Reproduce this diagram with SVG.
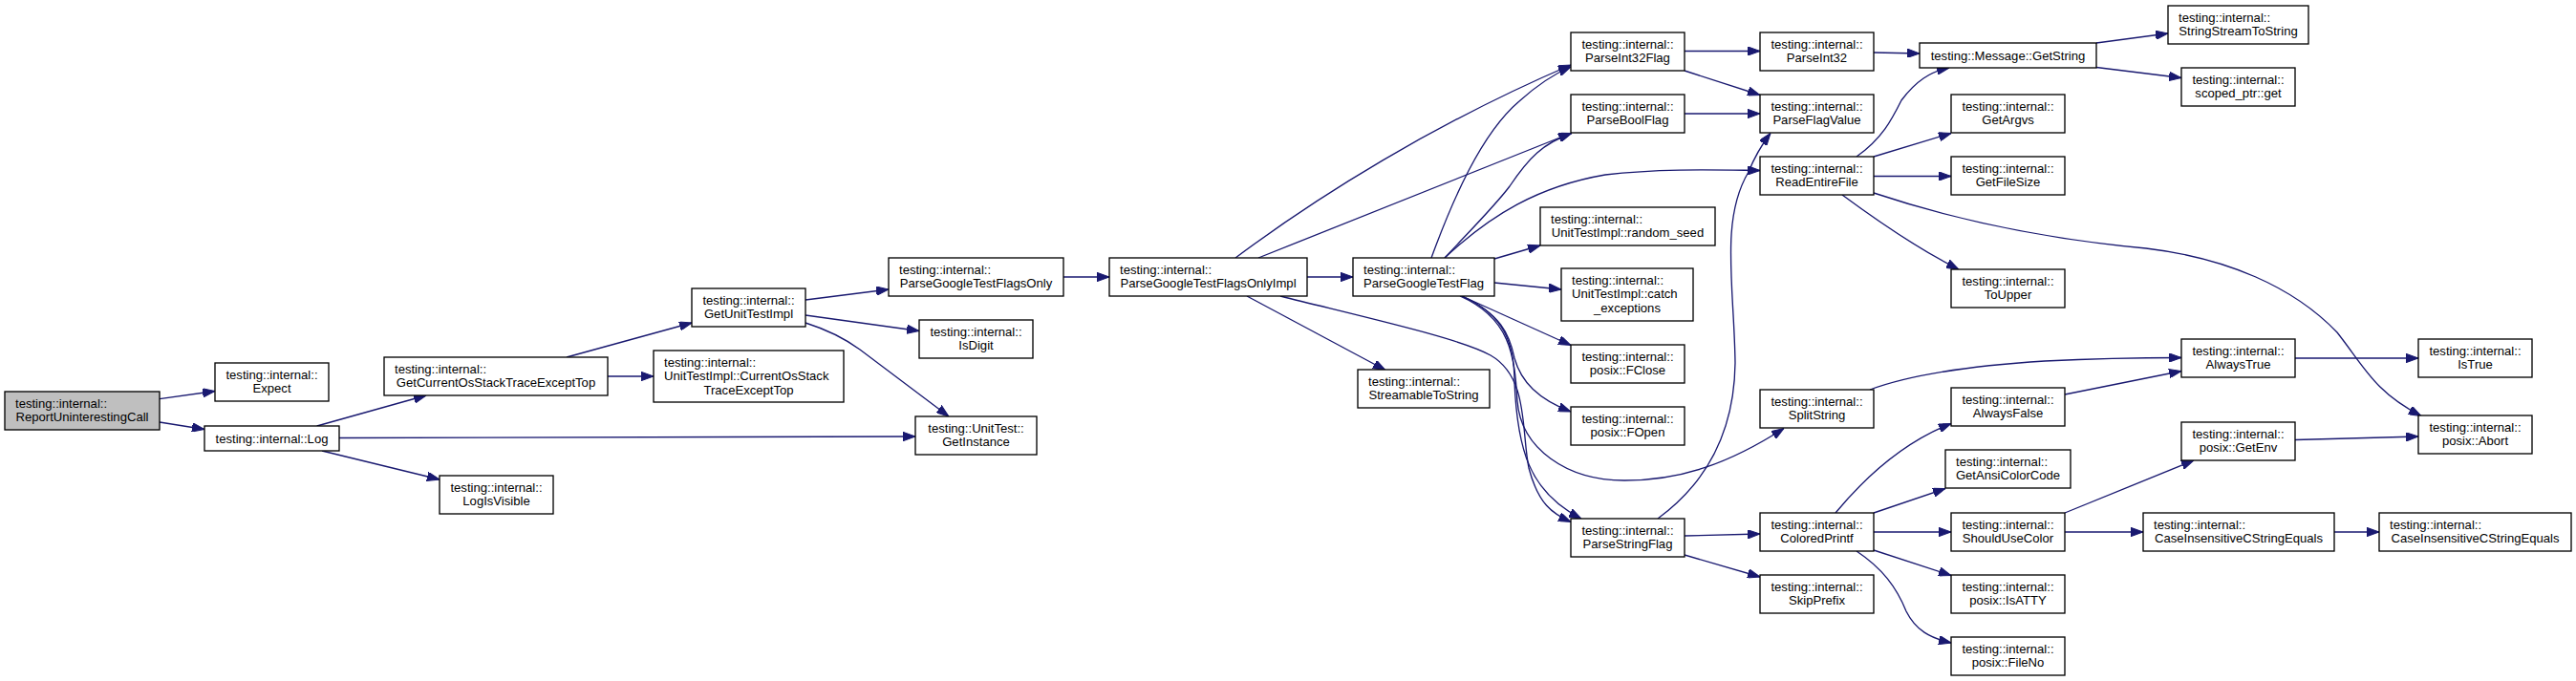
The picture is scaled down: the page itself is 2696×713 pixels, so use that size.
<svg xmlns="http://www.w3.org/2000/svg" width="2696" height="713" viewBox="0 0 2696 713">
<defs>
<style>
.nd rect{fill:#ffffff;stroke:#000000;stroke-width:1.33}
.nd text{font-family:"Liberation Sans",Arial,Helvetica,sans-serif;font-size:13.1px;fill:#000000}
.c{text-anchor:middle}
.l{text-anchor:start}
#edges path{fill:none;stroke:#191970;stroke-width:1.33;marker-end:url(#arr)}
</style>
<marker id="arr" viewBox="0 0 13 9.4" refX="13" refY="4.7" markerWidth="13" markerHeight="9.4" markerUnits="userSpaceOnUse" orient="auto">
<path d="M0,0 L13,4.7 L0,9.4 z" fill="#191970" stroke="#191970" stroke-width="1"/>
</marker>
</defs>
<rect x="0" y="0" width="2696" height="713" fill="#ffffff"/>
<g id="edges">
<path d="M167,417.7 L225,409.5"/>
<path d="M167,442 L214,449.5"/>
<path d="M331.7,446 L446,414"/>
<path d="M355,458.5 L958,457"/>
<path d="M337,472 L460,502"/>
<path d="M593,374 L724,338"/>
<path d="M636,394 L684,394"/>
<path d="M843,314 L930,303"/>
<path d="M843,330 L962,346.5"/>
<path d="M843,338 C865,345 885,355 900,366 L993,436"/>
<path d="M1113,290 L1161,290"/>
<path d="M1368,290 L1416,290"/>
<path d="M1293,270 C1380,205 1500,130 1644,68"/>
<path d="M1317,270 L1644,139.5"/>
<path d="M1305,310 L1450,387.5"/>
<path d="M1340,310 C1440,335 1530,355 1560,372 C1600,395 1592,450 1600,490 C1610,528 1625,538 1644,546.5"/>
<path d="M1530,310 L1644,361.5"/>
<path d="M1530,310 C1570,328 1580,350 1585,375 C1592,400 1610,418 1644,431"/>
<path d="M1530,310 C1575,330 1585,360 1585,400 C1588,470 1600,515 1655,543"/>
<path d="M1528,310 C1580,333 1585,370 1588,420 C1592,470 1640,503 1700,503 C1760,503 1810,485 1867,448.5"/>
<path d="M1498,270 C1520,210 1550,140 1590,106 C1610,88 1625,78 1644,70"/>
<path d="M1512,270 C1540,240 1565,215 1580,195 C1600,165 1615,150 1645,139.5"/>
<path d="M1512,270 C1560,225 1610,195 1680,183 C1740,176 1800,178 1842,178.5"/>
<path d="M1564,271 L1612,257"/>
<path d="M1564,296 L1634,303"/>
<path d="M1735,543 C1780,510 1815,460 1816,380 C1815,300 1800,230 1830,180 C1838,160 1845,150 1853,139.5"/>
<path d="M1763,561 L1842,559"/>
<path d="M1763,581 L1842,604"/>
<path d="M1763,53.5 L1842,53.5"/>
<path d="M1763,74 L1842,99.5"/>
<path d="M1763,119 L1842,119"/>
<path d="M1961,55 L2009,56"/>
<path d="M1943,164 C1970,145 1980,125 1990,105 C2005,85 2020,75 2040,71"/>
<path d="M1961,164 L2042,139.5"/>
<path d="M1961,184.5 L2042,184.5"/>
<path d="M1928,204 C1970,235 2010,262 2050,282"/>
<path d="M1961,202 C2060,235 2160,252 2246,260 C2330,270 2400,300 2446,348 C2475,385 2485,410 2534,435.5"/>
<path d="M2194,45 L2269,35"/>
<path d="M2194,70.5 L2283,81.5"/>
<path d="M1957,408 C2000,392 2060,383 2140,378 C2200,375 2240,374.5 2283,374.5"/>
<path d="M2161,413 L2283,388.5"/>
<path d="M2402,375 L2531,375"/>
<path d="M2402,460.5 L2531,457"/>
<path d="M1921,537 C1960,490 2000,460 2042,443.5"/>
<path d="M1961,537 L2036,511.5"/>
<path d="M1961,557 L2042,557"/>
<path d="M1961,576 L2042,602.5"/>
<path d="M1943,577 C1970,595 1985,615 1995,640 C2005,660 2020,668 2042,673"/>
<path d="M2161,537 L2296,482"/>
<path d="M2161,557 L2243,557"/>
<path d="M2443,557 L2490,557"/>
</g>
<g id="n_report" class="nd"><rect x="5" y="410" width="162" height="40" style="fill:#bfbfbf"/><text class="l" x="16" y="426.7">testing::internal::</text><text class="c" x="86" y="441.3">ReportUninterestingCall</text></g>
<g id="n_expect" class="nd"><rect x="225" y="380" width="119" height="40"/><text class="c" x="284.5" y="396.7">testing::internal::</text><text class="c" x="284.5" y="411.3">Expect</text></g>
<g id="n_log" class="nd"><rect x="214" y="446" width="141" height="26"/><text class="c" x="284.5" y="463.5">testing::internal::Log</text></g>
<g id="n_getcur" class="nd"><rect x="402" y="374" width="234" height="40"/><text class="l" x="413" y="390.7">testing::internal::</text><text class="c" x="519" y="405.3">GetCurrentOsStackTraceExceptTop</text></g>
<g id="n_utcur" class="nd"><rect x="684" y="367" width="199" height="54"/><text class="l" x="695" y="383.5">testing::internal::</text><text class="l" x="695" y="398">UnitTestImpl::CurrentOsStack</text><text class="c" x="783.5" y="412.5">TraceExceptTop</text></g>
<g id="n_logvis" class="nd"><rect x="460" y="498" width="119" height="40"/><text class="c" x="519.5" y="514.7">testing::internal::</text><text class="c" x="519.5" y="529.3">LogIsVisible</text></g>
<g id="n_getuti" class="nd"><rect x="724" y="302" width="119" height="40"/><text class="c" x="783.5" y="318.7">testing::internal::</text><text class="c" x="783.5" y="333.3">GetUnitTestImpl</text></g>
<g id="n_pgtfo" class="nd"><rect x="930" y="270" width="183" height="40"/><text class="l" x="941" y="286.7">testing::internal::</text><text class="c" x="1021.5" y="301.3">ParseGoogleTestFlagsOnly</text></g>
<g id="n_isdigit" class="nd"><rect x="962" y="335" width="119" height="40"/><text class="c" x="1021.5" y="351.7">testing::internal::</text><text class="c" x="1021.5" y="366.3">IsDigit</text></g>
<g id="n_getinst" class="nd"><rect x="958" y="436" width="127" height="40"/><text class="c" x="1021.5" y="452.7">testing::UnitTest::</text><text class="c" x="1021.5" y="467.3">GetInstance</text></g>
<g id="n_pgtfoi" class="nd"><rect x="1161" y="270" width="207" height="40"/><text class="l" x="1172" y="286.7">testing::internal::</text><text class="c" x="1264.5" y="301.3">ParseGoogleTestFlagsOnlyImpl</text></g>
<g id="n_pgtf" class="nd"><rect x="1416" y="270" width="148" height="40"/><text class="l" x="1427" y="286.7">testing::internal::</text><text class="c" x="1490" y="301.3">ParseGoogleTestFlag</text></g>
<g id="n_pi32f" class="nd"><rect x="1644" y="34" width="119" height="40"/><text class="c" x="1703.5" y="50.7">testing::internal::</text><text class="c" x="1703.5" y="65.3">ParseInt32Flag</text></g>
<g id="n_pbf" class="nd"><rect x="1644" y="99" width="119" height="40"/><text class="c" x="1703.5" y="115.7">testing::internal::</text><text class="c" x="1703.5" y="130.3">ParseBoolFlag</text></g>
<g id="n_rseed" class="nd"><rect x="1612" y="217" width="183" height="40"/><text class="l" x="1623" y="233.7">testing::internal::</text><text class="c" x="1703.5" y="248.3">UnitTestImpl::random_seed</text></g>
<g id="n_catch" class="nd"><rect x="1634" y="281" width="138" height="55"/><text class="l" x="1645" y="297.5">testing::internal::</text><text class="l" x="1645" y="312">UnitTestImpl::catch</text><text class="c" x="1703" y="326.5">_exceptions</text></g>
<g id="n_s2s" class="nd"><rect x="1421" y="387" width="138" height="40"/><text class="l" x="1432" y="403.7">testing::internal::</text><text class="c" x="1490" y="418.3">StreamableToString</text></g>
<g id="n_fclose" class="nd"><rect x="1644" y="361" width="119" height="40"/><text class="c" x="1703.5" y="377.7">testing::internal::</text><text class="c" x="1703.5" y="392.3">posix::FClose</text></g>
<g id="n_fopen" class="nd"><rect x="1644" y="426" width="119" height="40"/><text class="c" x="1703.5" y="442.7">testing::internal::</text><text class="c" x="1703.5" y="457.3">posix::FOpen</text></g>
<g id="n_psf" class="nd"><rect x="1644" y="543" width="119" height="40"/><text class="c" x="1703.5" y="559.7">testing::internal::</text><text class="c" x="1703.5" y="574.3">ParseStringFlag</text></g>
<g id="n_pi32" class="nd"><rect x="1842" y="34" width="119" height="40"/><text class="c" x="1901.5" y="50.7">testing::internal::</text><text class="c" x="1901.5" y="65.3">ParseInt32</text></g>
<g id="n_getstr" class="nd"><rect x="2009" y="45" width="185" height="26"/><text class="c" x="2101.5" y="62.5">testing::Message::GetString</text></g>
<g id="n_pfv" class="nd"><rect x="1842" y="99" width="119" height="40"/><text class="c" x="1901.5" y="115.7">testing::internal::</text><text class="c" x="1901.5" y="130.3">ParseFlagValue</text></g>
<g id="n_ref" class="nd"><rect x="1842" y="164" width="119" height="40"/><text class="c" x="1901.5" y="180.7">testing::internal::</text><text class="c" x="1901.5" y="195.3">ReadEntireFile</text></g>
<g id="n_argvs" class="nd"><rect x="2042" y="99" width="119" height="40"/><text class="c" x="2101.5" y="115.7">testing::internal::</text><text class="c" x="2101.5" y="130.3">GetArgvs</text></g>
<g id="n_fsize" class="nd"><rect x="2042" y="164" width="119" height="40"/><text class="c" x="2101.5" y="180.7">testing::internal::</text><text class="c" x="2101.5" y="195.3">GetFileSize</text></g>
<g id="n_toupper" class="nd"><rect x="2042" y="282" width="119" height="40"/><text class="c" x="2101.5" y="298.7">testing::internal::</text><text class="c" x="2101.5" y="313.3">ToUpper</text></g>
<g id="n_split" class="nd"><rect x="1842" y="408" width="119" height="40"/><text class="c" x="1901.5" y="424.7">testing::internal::</text><text class="c" x="1901.5" y="439.3">SplitString</text></g>
<g id="n_afalse" class="nd"><rect x="2042" y="406" width="119" height="40"/><text class="c" x="2101.5" y="422.7">testing::internal::</text><text class="c" x="2101.5" y="437.3">AlwaysFalse</text></g>
<g id="n_ansi" class="nd"><rect x="2036" y="471" width="131" height="40"/><text class="l" x="2047" y="487.7">testing::internal::</text><text class="c" x="2101.5" y="502.3">GetAnsiColorCode</text></g>
<g id="n_cprintf" class="nd"><rect x="1842" y="537" width="119" height="40"/><text class="c" x="1901.5" y="553.7">testing::internal::</text><text class="c" x="1901.5" y="568.3">ColoredPrintf</text></g>
<g id="n_suc" class="nd"><rect x="2042" y="537" width="119" height="40"/><text class="c" x="2101.5" y="553.7">testing::internal::</text><text class="c" x="2101.5" y="568.3">ShouldUseColor</text></g>
<g id="n_skip" class="nd"><rect x="1842" y="602" width="119" height="40"/><text class="c" x="1901.5" y="618.7">testing::internal::</text><text class="c" x="1901.5" y="633.3">SkipPrefix</text></g>
<g id="n_isatty" class="nd"><rect x="2042" y="602" width="119" height="40"/><text class="c" x="2101.5" y="618.7">testing::internal::</text><text class="c" x="2101.5" y="633.3">posix::IsATTY</text></g>
<g id="n_fileno" class="nd"><rect x="2042" y="667" width="119" height="40"/><text class="c" x="2101.5" y="683.7">testing::internal::</text><text class="c" x="2101.5" y="698.3">posix::FileNo</text></g>
<g id="n_ss2s" class="nd"><rect x="2269" y="6" width="147" height="40"/><text class="l" x="2280" y="22.7">testing::internal::</text><text class="c" x="2342.5" y="37.3">StringStreamToString</text></g>
<g id="n_sptr" class="nd"><rect x="2283" y="71" width="119" height="40"/><text class="c" x="2342.5" y="87.7">testing::internal::</text><text class="c" x="2342.5" y="102.3">scoped_ptr::get</text></g>
<g id="n_atrue" class="nd"><rect x="2283" y="355" width="119" height="40"/><text class="c" x="2342.5" y="371.7">testing::internal::</text><text class="c" x="2342.5" y="386.3">AlwaysTrue</text></g>
<g id="n_istrue" class="nd"><rect x="2531" y="355" width="119" height="40"/><text class="c" x="2590.5" y="371.7">testing::internal::</text><text class="c" x="2590.5" y="386.3">IsTrue</text></g>
<g id="n_abort" class="nd"><rect x="2531" y="435" width="119" height="40"/><text class="c" x="2590.5" y="451.7">testing::internal::</text><text class="c" x="2590.5" y="466.3">posix::Abort</text></g>
<g id="n_getenv" class="nd"><rect x="2283" y="442" width="119" height="40"/><text class="c" x="2342.5" y="458.7">testing::internal::</text><text class="c" x="2342.5" y="473.3">posix::GetEnv</text></g>
<g id="n_cice1" class="nd"><rect x="2243" y="537" width="200" height="40"/><text class="l" x="2254" y="553.7">testing::internal::</text><text class="c" x="2343" y="568.3">CaseInsensitiveCStringEquals</text></g>
<g id="n_cice2" class="nd"><rect x="2490" y="537" width="201" height="40"/><text class="l" x="2501" y="553.7">testing::internal::</text><text class="c" x="2590.5" y="568.3">CaseInsensitiveCStringEquals</text></g>
</svg>
